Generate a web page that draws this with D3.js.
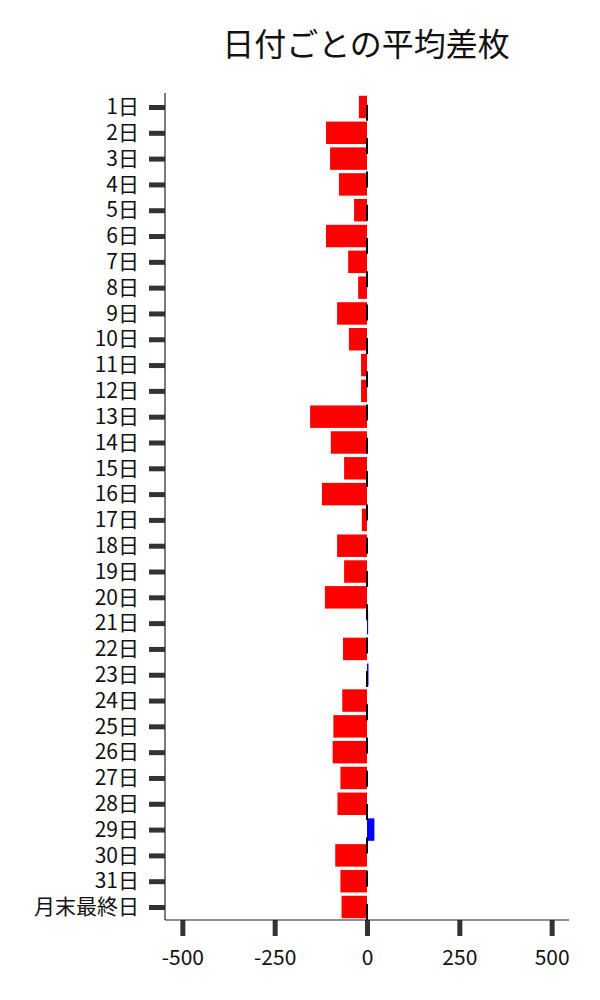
<!DOCTYPE html>
<html><head><meta charset="utf-8">
<script src="https://cdn.jsdelivr.net/npm/d3@7"></script>
<style>body{margin:0;background:#fff;} svg{display:block;}</style>
</head><body>
<svg id="chart" width="600" height="1000"></svg>
<script>
const title = "日付ごとの平均差枚";
const categories = ["1日","2日","3日","4日","5日","6日","7日","8日","9日","10日","11日","12日","13日","14日","15日","16日","17日","18日","19日","20日","21日","22日","23日","24日","25日","26日","27日","28日","29日","30日","31日","月末最終日"];
const values = [-22,-111,-100,-76,-35,-111,-51,-24,-81,-49,-16,-16,-154,-98,-62,-122,-14,-81,-62,-114,3,-65,4,-67,-91,-93,-72,-80,20,-86,-72,-69];
const xTicks = [-500,-250,0,250,500];
const xDomain = [-547,547];

(function(){
const font = "'Noto Sans CJK JP','Noto Sans',sans-serif";
const svg = d3.select("#chart");
const mLeft = 165, mRight = 569, mTop = 93, mBottom = 920;

const x = d3.scaleLinear().domain(xDomain).range([mLeft, mRight]);
const y = d3.scalePoint().domain(categories).range([107, 907]);
const step = y.step();
const barH = step * 0.87;

svg.append("text").attr("x", 366).attr("y", 56).attr("text-anchor","middle")
  .attr("font-family", font).attr("font-size", 32).attr("fill","#111").text(title);

// bars
svg.append("g").selectAll("rect").data(categories.map((c,i)=>({c, v: values[i]})))
  .join("rect")
  .attr("x", d => x(Math.min(0, d.v)))
  .attr("width", d => Math.abs(x(d.v) - x(0)))
  .attr("y", d => y(d.c) - barH/2)
  .attr("height", barH)
  .attr("fill", d => d.v < 0 ? "#ff0000" : "#0000ff");

// zero dashed line (drawn from bottom up)
svg.append("path")
  .attr("d", `M${x(0)},${mBottom}V${mTop}`)
  .attr("stroke", "#000").attr("stroke-width", 2)
  .attr("stroke-dasharray", "16,17.3").attr("fill","none");

// y axis
const yAxis = svg.append("g").attr("transform", `translate(${mLeft},0)`)
  .call(d3.axisLeft(y).tickSize(16).tickPadding(10));
yAxis.select(".domain").remove();
yAxis.selectAll(".tick line").attr("stroke","#333").attr("stroke-width",5);
yAxis.selectAll(".tick text").attr("font-family", font).attr("font-size", 21).attr("fill","#111");

// x axis
const xAxis = svg.append("g").attr("transform", `translate(0,${mBottom})`)
  .call(d3.axisBottom(x).tickValues(xTicks).tickSize(16).tickPadding(14).tickFormat(d => String(d)));
xAxis.select(".domain").remove();
xAxis.selectAll(".tick line").attr("stroke","#333").attr("stroke-width",5);
xAxis.selectAll(".tick text").attr("font-family", font).attr("font-size", 21).attr("fill","#111");

// spines
svg.append("line").attr("x1", mLeft).attr("x2", mLeft).attr("y1", mTop).attr("y2", mBottom)
  .attr("stroke","#222").attr("stroke-width",1.2);
svg.append("line").attr("x1", mLeft).attr("x2", mRight).attr("y1", mBottom).attr("y2", mBottom)
  .attr("stroke","#222").attr("stroke-width",1.2);
})();
</script>
</body></html>
